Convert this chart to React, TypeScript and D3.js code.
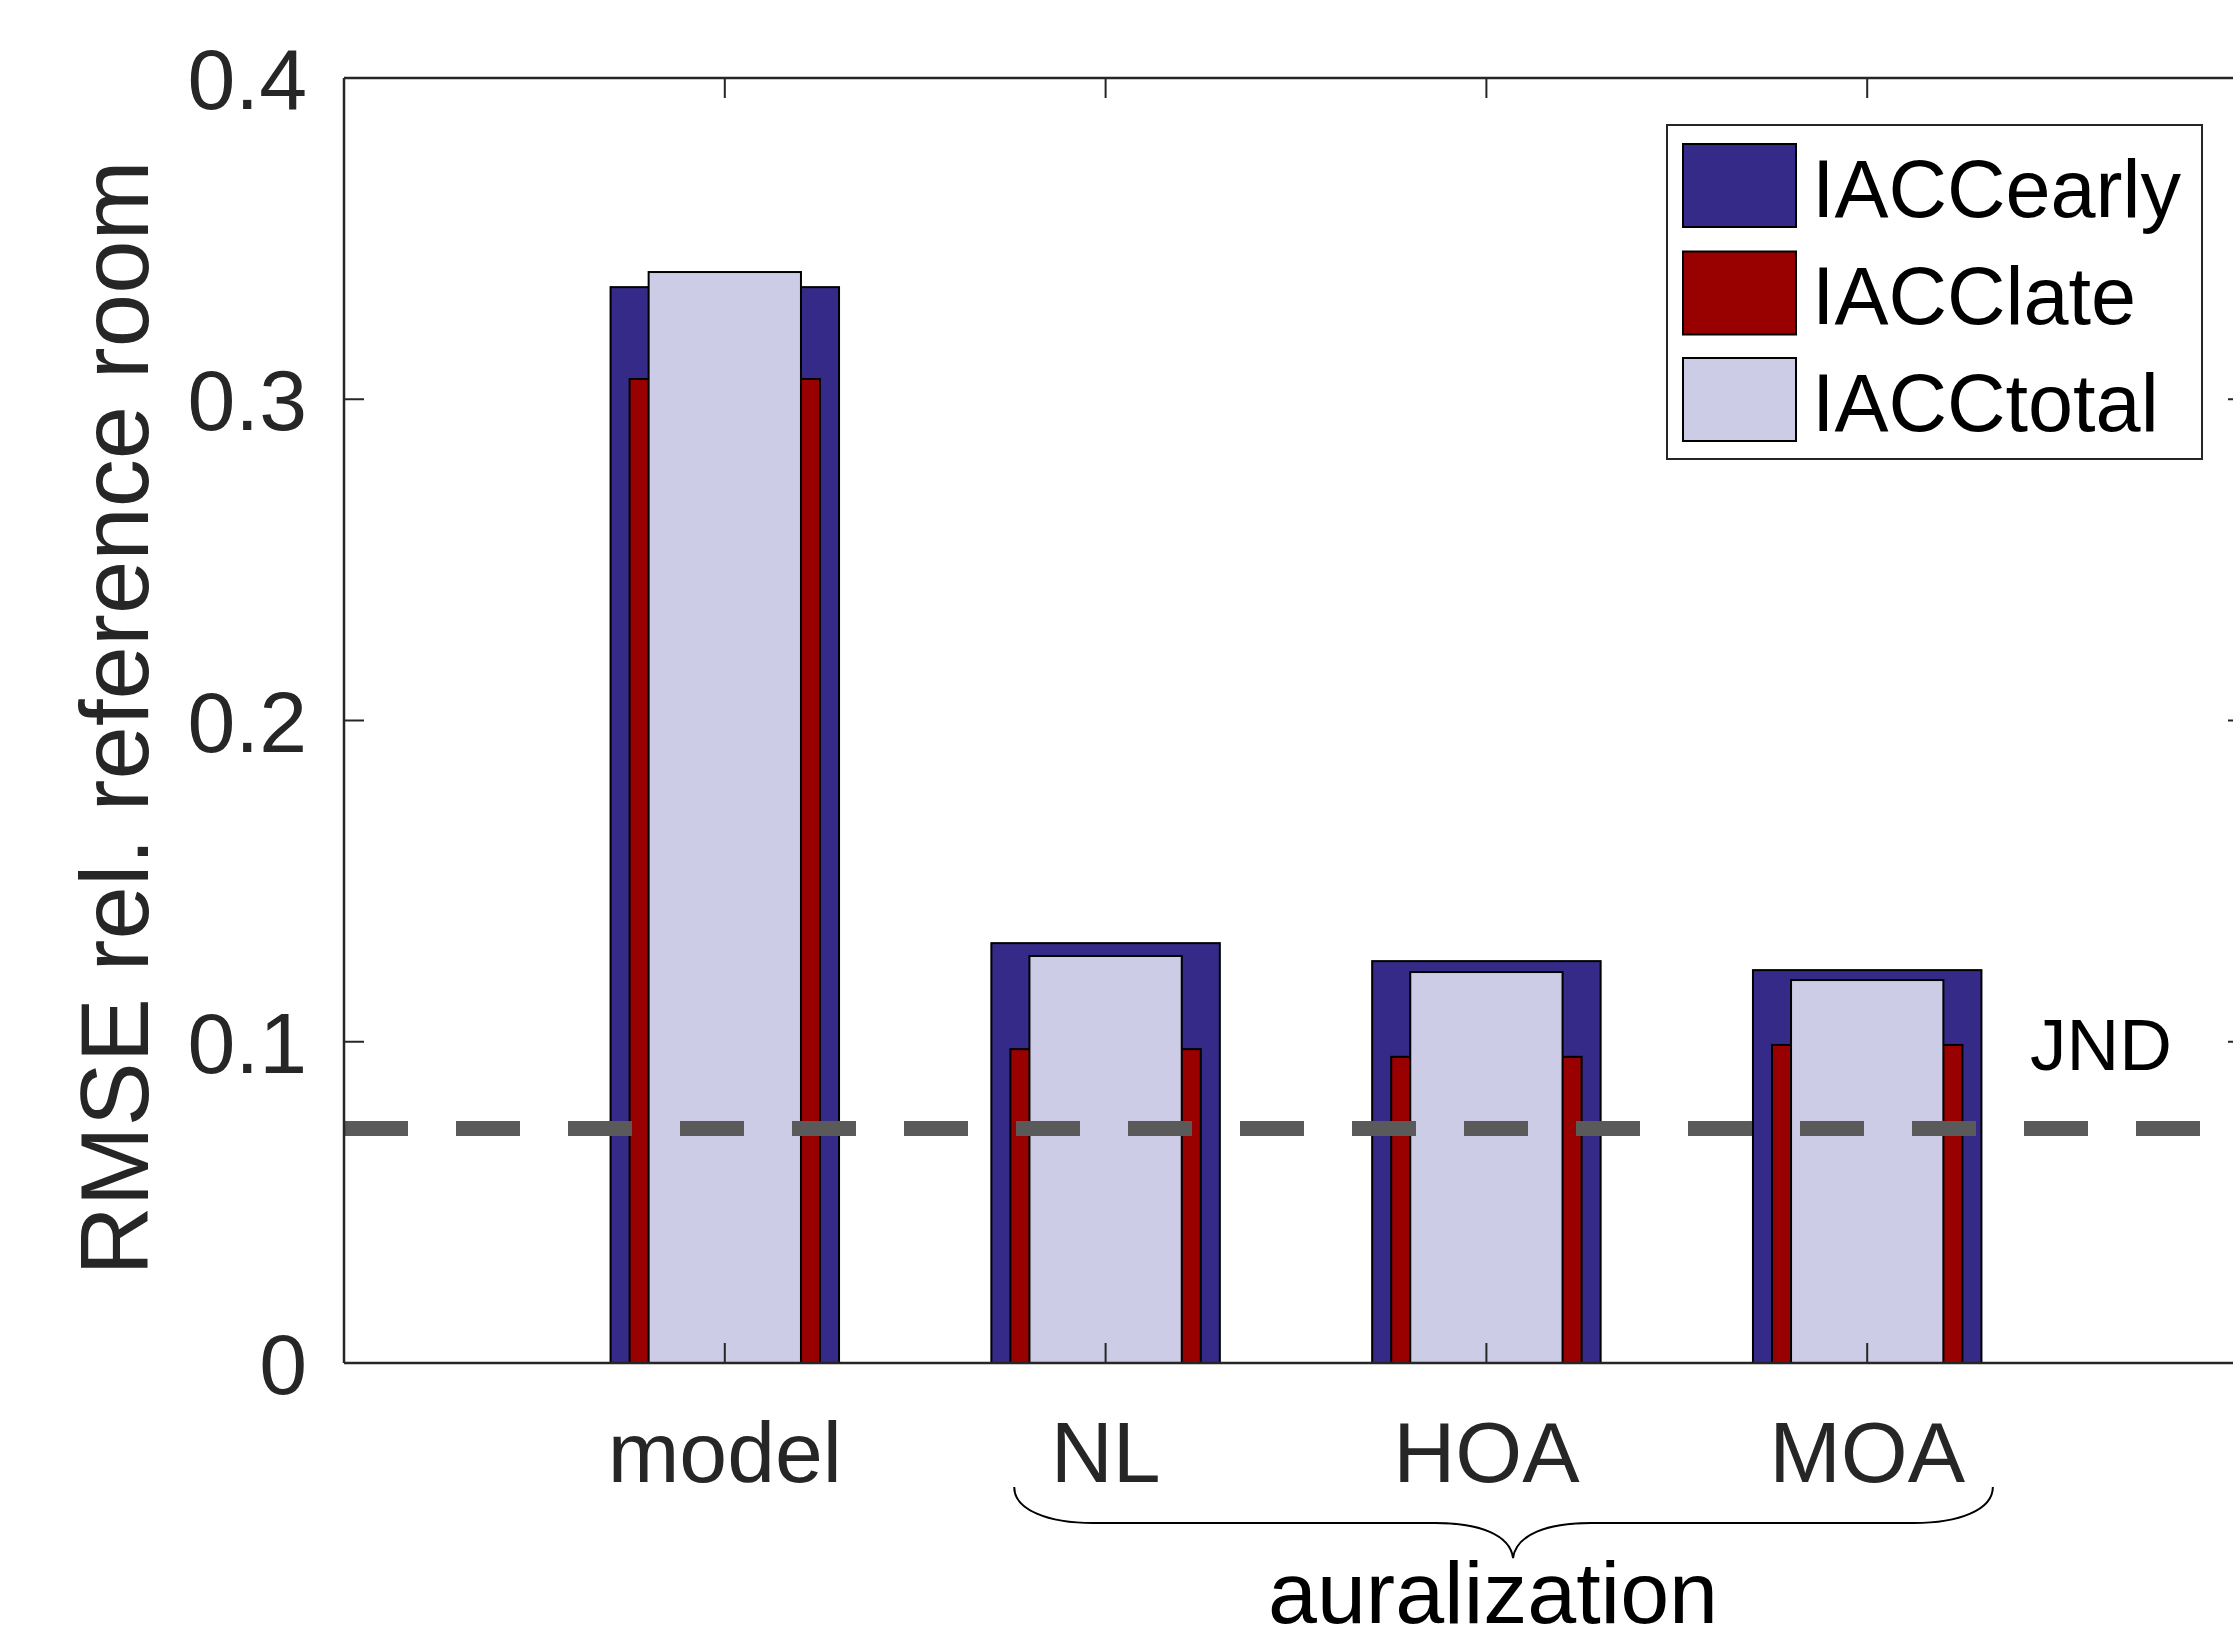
import React from "react";
import * as d3 from "d3";

const categories = ["model", "NL", "HOA", "MOA"];
const iaccEarly = [0.3349, 0.1307, 0.1251, 0.1223];
const iaccLate = [0.3063, 0.0977, 0.0953, 0.099];
const iaccTotal = [0.3396, 0.1267, 0.1217, 0.1192];
const yTicks = [0, 0.1, 0.2, 0.3, 0.4];
const jnd = 0.073;
const seriesNames = ["IACCearly", "IACClate", "IACCtotal"];
const seriesColors = ["#352a87", "#990000", "#ccccE6"];
const barWidths = [0.6, 0.5, 0.4];

const W = 2233;
const H = 1633;
const FONT = "'Liberation Sans', Arial, Helvetica, sans-serif";
const AX = "#262626";

export default function App() {
  const x = d3.scaleLinear().domain([0, 5]).range([344, 2248]);
  const y = d3.scaleLinear().domain([0, 0.4]).range([1363, 78]);
  const series = [iaccEarly, iaccLate, iaccTotal];
  const unit = x(1) - x(0);
  const tickLen = 20;
  const xl = x(0), xr = x(5), yb = y(0), yt = y(0.4);

  // brace in data units
  const bL = x(1.76), bR = x(4.33), bT = x(3.07);
  const bTop = 1487, bMid = 1523, bTip = 1558;
  const brace = `M${bL},${bTop} C${bL},${bTop + 23} ${bL + 34},${bMid} ${bL + 79},${bMid} L${bT - 78},${bMid} C${bT - 33},${bMid} ${bT - 3},${bMid + 12} ${bT},${bTip} C${bT + 3},${bMid + 12} ${bT + 33},${bMid} ${bT + 78},${bMid} L${bR - 79},${bMid} C${bR - 34},${bMid} ${bR},${bTop + 23} ${bR},${bTop}`;

  const legX = 1667, legY = 125, legW = 535, legH = 334;
  const rowCenters = [185.5, 293, 399.5];

  return (
    <svg
      width={W}
      height={H}
      style={{ position: "fixed", left: 0, top: 0, background: "#fff" }}
      fontFamily={FONT}
    >
      <rect x={0} y={0} width={W} height={H} fill="#fff" />
      {/* bars */}
      {series.map((vals, si) => (
        <g key={si}>
          {vals.map((v, i) => (
            <rect
              key={i}
              x={x(i + 1) - (barWidths[si] * unit) / 2}
              y={y(v)}
              width={barWidths[si] * unit}
              height={y(0) - y(v)}
              fill={seriesColors[si]}
              stroke="#000"
              strokeWidth={2}
            />
          ))}
        </g>
      ))}
      {/* JND line */}
      <line
        x1={xl}
        x2={xr}
        y1={y(jnd)}
        y2={y(jnd)}
        stroke="#5a5a5a"
        strokeWidth={15}
        strokeDasharray="64 48"
      />
      <text x={2030} y={1070} fontSize={73} fill="#000">JND</text>
      {/* axes box */}
      <line x1={xl} x2={xr} y1={yb} y2={yb} stroke={AX} strokeWidth={2.5} />
      <line x1={xl} x2={xr} y1={yt} y2={yt} stroke={AX} strokeWidth={2.5} />
      <line x1={xl} x2={xl} y1={yt} y2={yb} stroke={AX} strokeWidth={2.5} />
      <line x1={xr} x2={xr} y1={yt} y2={yb} stroke={AX} strokeWidth={2.5} />
      {yTicks.map((t) => (
        <g key={t}>
          <line x1={xl} x2={xl + tickLen} y1={y(t)} y2={y(t)} stroke={AX} strokeWidth={2} />
          <line x1={xr} x2={xr - tickLen} y1={y(t)} y2={y(t)} stroke={AX} strokeWidth={2} />
          <text x={307} y={y(t) + 31} fontSize={86} fill={AX} textAnchor="end">
            {t === 0 ? "0" : t.toFixed(1)}
          </text>
        </g>
      ))}
      {categories.map((c, i) => (
        <g key={c}>
          <line x1={x(i + 1)} x2={x(i + 1)} y1={yb} y2={yb - tickLen} stroke={AX} strokeWidth={2} />
          <line x1={x(i + 1)} x2={x(i + 1)} y1={yt} y2={yt + tickLen} stroke={AX} strokeWidth={2} />
          <text x={x(i + 1)} y={1482} fontSize={86} fill={AX} textAnchor="middle">
            {c}
          </text>
        </g>
      ))}
      {/* y label */}
      <text
        transform={`translate(148,718) rotate(-90)`}
        fontSize={96}
        fill={AX}
        textAnchor="middle"
      >
        RMSE rel. reference room
      </text>
      {/* brace */}
      <path d={brace} fill="none" stroke="#000" strokeWidth={2} />
      <text x={1493} y={1623} fontSize={88} fill="#000" textAnchor="middle">
        auralization
      </text>
      {/* legend */}
      <rect x={legX} y={legY} width={legW} height={legH} fill="#fff" stroke={AX} strokeWidth={2} />
      {seriesNames.map((n, i) => (
        <g key={n}>
          <rect
            x={1683}
            y={rowCenters[i] - 41.5}
            width={113}
            height={83}
            fill={seriesColors[i]}
            stroke="#000"
            strokeWidth={2}
          />
          <text x={1812} y={rowCenters[i] + 31} fontSize={81} fill="#000">
            {n}
          </text>
        </g>
      ))}
    </svg>
  );
}
